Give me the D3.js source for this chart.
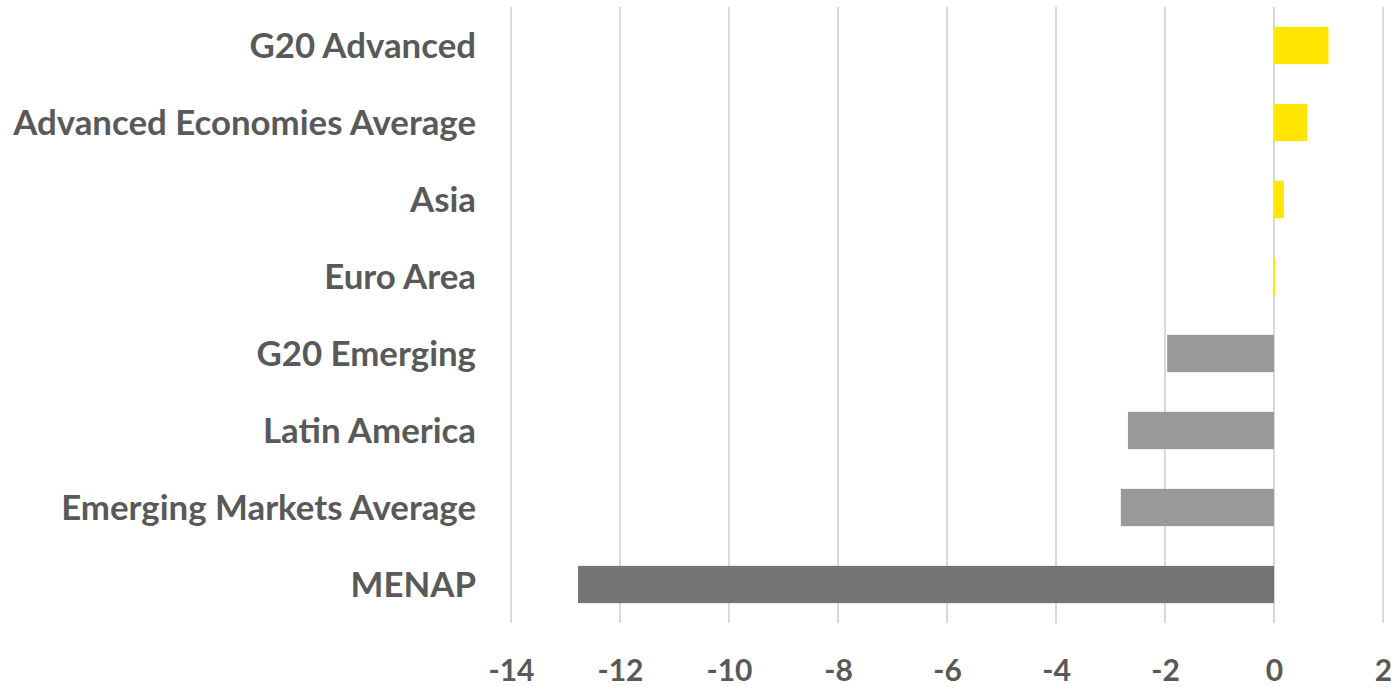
<!DOCTYPE html>
<html>
<head>
<meta charset="utf-8">
<script src="https://cdn.jsdelivr.net/npm/d3@7"></script>
<style>
  html, body { margin: 0; padding: 0; background: #ffffff; }
  svg { display: block; }
</style>
</head>
<body>
<svg id="chart" width="1391" height="687"></svg>
<script>
// Regions, top to bottom
const categories = [
  "G20 Advanced",
  "Advanced Economies Average",
  "Asia",
  "Euro Area",
  "G20 Emerging",
  "Latin America",
  "Emerging Markets Average",
  "MENAP"
];
const values = [1.0, 0.61, 0.18, 0.02, -1.96, -2.68, -2.81, -12.77];
const barColors = ["#FFE600", "#FFE600", "#FFE600", "#FFE600", "#999999", "#999999", "#999999", "#747474"];
const xTicks = [-14, -12, -10, -8, -6, -4, -2, 0, 2];

const svg = d3.select("#chart");
const margin = { top: 7, right: 8, bottom: 64, left: 511 };
const width = 1391, height = 687;

const x = d3.scaleLinear()
  .domain([-14, 2])
  .range([margin.left, 1383]);

const y = d3.scaleBand()
  .domain(categories)
  .range([margin.top, height - margin.bottom])
  .paddingInner(0.516)
  .paddingOuter(0.258);

const font = "Lato, 'Open Sans', sans-serif";
const textColor = "#595959";

// vertical gridlines
svg.append("g")
  .selectAll("line")
  .data(xTicks)
  .join("line")
  .attr("x1", d => x(d)).attr("x2", d => x(d))
  .attr("y1", margin.top).attr("y2", height - margin.bottom)
  .attr("stroke", "#d9d9d9")
  .attr("stroke-width", 2);

// bars
svg.append("g")
  .selectAll("rect")
  .data(values)
  .join("rect")
  .attr("x", d => x(Math.min(0, d)))
  .attr("y", (d, i) => y(categories[i]))
  .attr("width", d => Math.abs(x(d) - x(0)))
  .attr("height", y.bandwidth())
  .attr("fill", (d, i) => barColors[i]);

// x-axis tick labels
const xAxis = d3.axisBottom(x).tickValues(xTicks).tickSize(0).tickPadding(0).tickFormat(d3.format("d"));
const gx = svg.append("g")
  .attr("transform", `translate(0, ${height - margin.bottom})`)
  .call(xAxis);
gx.select(".domain").remove();
gx.selectAll("text")
  .attr("y", 47)
  .attr("dy", "0.35em")
  .attr("fill", textColor)
  .style("font-family", font)
  .style("font-weight", "bold")
  .style("font-size", "30px")
  .text(d => d < 0 ? "-" + Math.abs(d) : String(d));

// category labels
const yAxis = d3.axisLeft(y).tickSize(0).tickPadding(0);
const gy = svg.append("g")
  .attr("transform", `translate(476, 0)`)
  .call(yAxis);
gy.select(".domain").remove();
gy.selectAll("text")
  .attr("x", 0)
  .attr("dy", "0.35em")
  .attr("fill", textColor)
  .style("font-family", font)
  .style("font-weight", "bold")
  .style("font-size", "32px");

// fit the longest label to the available label column
let maxW = 0;
gy.selectAll("text").each(function () { maxW = Math.max(maxW, this.getComputedTextLength()); });
const fitted = 32 * 463 / maxW;
gy.selectAll("text").style("font-size", fitted + "px");
</script>
</body>
</html>
